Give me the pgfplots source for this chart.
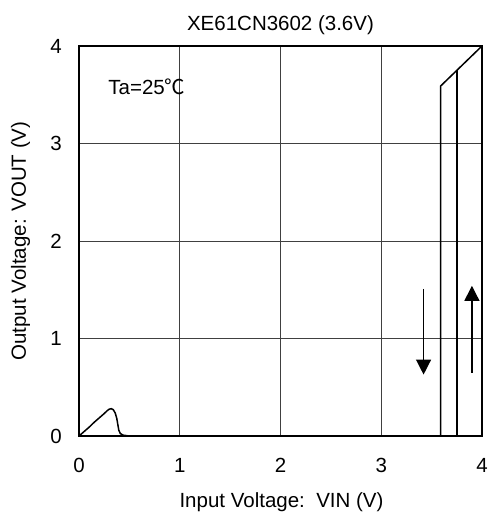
\documentclass[border=0pt]{standalone}
\usepackage{fontspec}
\setmainfont{Liberation Sans}
\newfontfamily\cjk{Noto Sans CJK SC}
\usepackage{pgfplots}
\pgfplotsset{compat=1.18}
\usetikzlibrary{arrows.meta}
\begin{document}
\fontsize{20.5bp}{24bp}\selectfont
\begin{tikzpicture}
\begin{axis}[
  at={(0,0)}, anchor=south west,
  scale only axis, width=403bp, height=390bp,
  xmin=0, xmax=4, ymin=0, ymax=4,
  xtick={0,1,2,3,4}, ytick={0,1,2,3,4},
  /pgf/number format/assume math mode=true,
  tick label style={font=\fontsize{20.5bp}{24bp}\selectfont},
  xticklabel style={inner sep=0pt, yshift=-22bp},
  yticklabel style={inner sep=0pt, xshift=-17bp},
  major tick length=0pt,
  grid=major,
  grid style={black!75, line width=0.8bp},
  axis line style={line width=1.6bp},
  clip=false,
]
\addplot[black, line width=1.5bp] coordinates {
(0,0) (0.05,0.045) (0.1,0.09) (0.15,0.14) (0.2,0.185) (0.25,0.23) (0.28,0.26) (0.30,0.275) (0.32,0.28) (0.34,0.27) (0.36,0.235) (0.375,0.18) (0.385,0.12) (0.395,0.06) (0.41,0.025) (0.44,0.008) (0.5,0)
(3.59,0) (3.59,3.59) (3.7,3.7) (3.8,3.8) (3.9,3.9) (4,4)};
\addplot[black, line width=1.5bp] coordinates {(3.75,0) (3.75,3.75)};
\addplot[black, line width=1.3bp, -{Triangle[width=15bp,length=15bp]}] coordinates {(3.42,1.51) (3.42,0.63)};
\addplot[black, line width=1.3bp, -{Triangle[width=15bp,length=15bp]}] coordinates {(3.90,0.65) (3.90,1.54)};
\node[anchor=base west, inner sep=0pt] at (axis cs:0.29,3.50) {Ta=25{\cjk ℃}};
\end{axis}
\node[anchor=base, inner sep=0pt] at (201.5bp,405bp) {XE61CN3602 (3.6V)};
\node[anchor=base, inner sep=0pt] at (202.5bp,-71bp) {Input Voltage:\ \ VIN (V)};
\node[anchor=base, inner sep=0pt, rotate=90] at (-53bp,195bp) {Output Voltage: VOUT (V)};
\pgfresetboundingbox
\path (-79bp,-78bp) rectangle (411bp,436bp);
\end{tikzpicture}
\end{document}
